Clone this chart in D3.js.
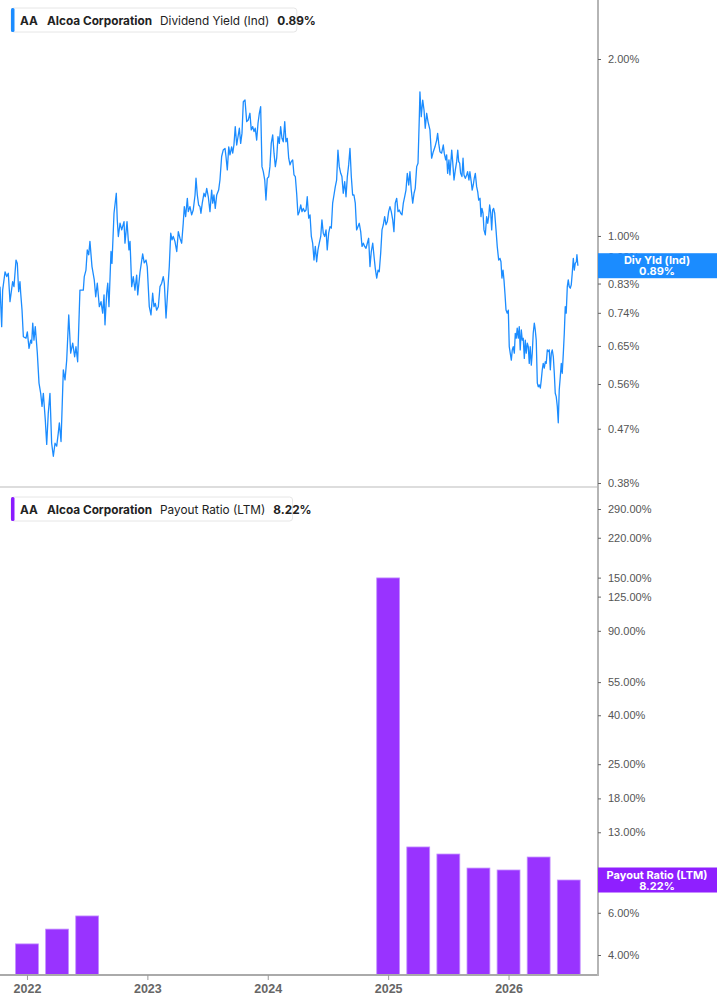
<!DOCTYPE html>
<html>
<head>
<meta charset="utf-8">
<script src="https://cdn.jsdelivr.net/npm/d3@7"></script>
<style>
  body { margin: 0; background: #fff; }
  svg { display: block; font-family: Inter, Roboto, "Noto Sans", sans-serif; }
  .tick-label { font-size: 11px; fill: #555; }
  .year-label { font-size: 12.5px; font-weight: 700; fill: #666; }
  .legend-text { font-size: 11.8px; fill: #222; }
  .tag-text { font-size: 11px; font-weight: 700; fill: #fff; }
</style>
</head>
<body>
<svg id="chart" width="717" height="1005"></svg>
<script>
// ========= data =========
// dividend yield (%) by date (decimal year)
const yieldSeries = [
  [2021.776,0.820],[2021.790,0.701],[2021.798,0.809],[2021.818,0.869],[2021.832,0.853],[2021.845,0.864],
  [2021.859,0.773],[2021.881,0.836],[2021.892,0.820],[2021.909,0.910],[2021.920,0.898],[2021.931,0.804],
  [2021.942,0.836],[2021.948,0.799],[2021.959,0.748],[2021.970,0.674],[2021.992,0.670],[2022.003,0.687],
  [2022.017,0.644],[2022.031,0.665],[2022.039,0.657],[2022.048,0.711],[2022.058,0.665],[2022.069,0.701],
  [2022.086,0.632],[2022.100,0.562],[2022.114,0.540],[2022.125,0.513],[2022.136,0.540],[2022.152,0.487],
  [2022.164,0.442],[2022.177,0.500],[2022.191,0.540],[2022.205,0.444],[2022.219,0.422],[2022.233,0.444],
  [2022.247,0.439],[2022.260,0.462],[2022.269,0.481],[2022.283,0.447],[2022.302,0.592],[2022.316,0.569],
  [2022.330,0.615],[2022.347,0.734],[2022.363,0.632],[2022.380,0.657],[2022.396,0.623],[2022.407,0.648],
  [2022.421,0.611],[2022.440,0.809],[2022.468,0.809],[2022.476,0.853],[2022.490,0.875],[2022.501,0.947],
  [2022.513,0.929],[2022.523,0.979],[2022.540,0.887],[2022.559,0.842],[2022.571,0.788],[2022.584,0.831],
  [2022.601,0.758],[2022.615,0.773],[2022.629,0.739],[2022.640,0.794],[2022.648,0.706],[2022.662,0.799],
  [2022.671,0.831],[2022.681,0.758],[2022.698,0.941],[2022.706,0.898],[2022.723,1.093],[2022.742,1.182],
  [2022.750,1.065],[2022.759,0.998],[2022.773,1.051],[2022.787,1.024],[2022.806,1.058],[2022.814,0.972],
  [2022.831,1.058],[2022.847,0.947],[2022.856,0.979],[2022.870,0.820],[2022.883,0.853],[2022.897,0.809],
  [2022.911,0.858],[2022.920,0.794],[2022.939,0.868],[2022.961,0.932],[2022.974,0.900],[2022.989,0.910],
  [2022.999,0.886],[2023.016,0.758],[2023.030,0.734],[2023.044,0.799],[2023.055,0.758],[2023.066,0.768],
  [2023.077,0.748],[2023.091,0.758],[2023.105,0.820],[2023.119,0.831],[2023.132,0.853],[2023.141,0.831],
  [2023.155,0.725],[2023.166,0.788],[2023.182,0.887],[2023.194,1.011],[2023.205,0.985],[2023.215,0.998],
  [2023.229,0.979],[2023.244,0.941],[2023.257,1.017],[2023.271,0.991],[2023.285,0.972],[2023.298,1.051],
  [2023.307,1.122],[2023.318,1.079],[2023.332,1.159],[2023.340,1.100],[2023.354,1.122],[2023.368,1.086],
  [2023.381,1.107],[2023.396,1.174],[2023.404,1.254],[2023.415,1.174],[2023.426,1.129],[2023.437,1.122],
  [2023.445,1.093],[2023.456,1.137],[2023.470,1.182],[2023.481,1.166],[2023.493,1.205],[2023.506,1.166],
  [2023.520,1.100],[2023.534,1.197],[2023.543,1.137],[2023.553,1.174],[2023.564,1.114],[2023.576,1.174],
  [2023.592,1.197],[2023.603,1.245],[2023.617,1.365],[2023.630,1.400],[2023.645,1.409],[2023.653,1.365],
  [2023.664,1.295],[2023.676,1.418],[2023.686,1.374],[2023.700,1.418],[2023.709,1.383],[2023.719,1.428],
  [2023.730,1.535],[2023.742,1.428],[2023.753,1.475],[2023.764,1.525],[2023.775,1.437],[2023.786,1.496],
  [2023.797,1.692],[2023.811,1.703],[2023.825,1.565],[2023.838,1.575],[2023.852,1.617],[2023.863,1.515],
  [2023.875,1.535],[2023.886,1.505],[2023.896,1.525],[2023.908,1.456],[2023.919,1.555],[2023.930,1.617],
  [2023.941,1.660],[2023.952,1.312],[2023.963,1.287],[2023.975,1.245],[2023.985,1.151],[2023.996,1.253],
  [2024.008,1.261],[2024.018,1.312],[2024.029,1.437],[2024.041,1.486],[2024.052,1.383],[2024.063,1.312],
  [2024.074,1.356],[2024.085,1.475],[2024.096,1.437],[2024.107,1.535],[2024.118,1.466],[2024.129,1.446],
  [2024.141,1.565],[2024.151,1.446],[2024.162,1.466],[2024.174,1.356],[2024.185,1.321],[2024.195,1.338],
  [2024.207,1.347],[2024.218,1.270],[2024.229,1.262],[2024.240,1.182],[2024.251,1.086],[2024.262,1.100],
  [2024.274,1.129],[2024.284,1.100],[2024.295,1.114],[2024.307,1.100],[2024.318,1.107],[2024.328,1.166],
  [2024.340,1.072],[2024.351,1.086],[2024.362,0.998],[2024.373,0.972],[2024.384,0.910],[2024.395,0.960],
  [2024.406,0.904],[2024.417,0.947],[2024.428,0.972],[2024.440,0.998],[2024.450,1.065],[2024.461,1.011],
  [2024.473,0.998],[2024.484,1.024],[2024.494,0.947],[2024.506,1.011],[2024.517,1.037],[2024.528,1.031],
  [2024.539,1.137],[2024.550,1.174],[2024.561,1.213],[2024.572,1.245],[2024.583,1.400],[2024.594,1.312],
  [2024.606,1.278],[2024.616,1.262],[2024.627,1.182],[2024.639,1.237],[2024.650,1.166],[2024.661,1.262],
  [2024.672,1.321],[2024.683,1.409],[2024.694,1.262],[2024.705,1.174],[2024.716,1.174],[2024.727,1.137],
  [2024.738,1.024],[2024.749,1.037],[2024.760,1.051],[2024.772,1.017],[2024.783,0.960],[2024.794,0.972],
  [2024.805,0.960],[2024.816,0.953],[2024.827,0.972],[2024.838,0.991],[2024.849,0.887],[2024.860,0.941],
  [2024.872,0.972],[2024.883,0.922],[2024.893,0.881],[2024.905,0.848],[2024.916,0.875],[2024.926,0.869],
  [2024.938,0.935],[2024.949,1.024],[2024.960,1.045],[2024.971,1.079],[2024.982,1.045],[2024.993,1.058],
  [2025.004,1.100],[2025.015,1.122],[2025.026,1.100],[2025.038,1.065],[2025.048,1.017],[2025.059,1.137],
  [2025.071,1.159],[2025.082,1.100],[2025.092,1.107],[2025.104,1.093],[2025.115,1.086],[2025.126,1.137],
  [2025.137,1.166],[2025.148,1.197],[2025.159,1.278],[2025.171,1.221],[2025.181,1.286],[2025.192,1.197],
  [2025.204,1.137],[2025.215,1.182],[2025.225,1.205],[2025.237,1.312],[2025.248,1.330],[2025.259,1.596],
  [2025.264,1.759],[2025.275,1.596],[2025.287,1.703],[2025.298,1.638],[2025.308,1.525],[2025.320,1.617],
  [2025.331,1.565],[2025.347,1.515],[2025.361,1.356],[2025.375,1.391],[2025.389,1.418],[2025.403,1.456],
  [2025.411,1.495],[2025.420,1.437],[2025.430,1.391],[2025.444,1.383],[2025.458,1.428],[2025.466,1.383],
  [2025.478,1.347],[2025.486,1.374],[2025.494,1.278],[2025.505,1.347],[2025.513,1.270],[2025.528,1.400],
  [2025.536,1.338],[2025.547,1.245],[2025.558,1.295],[2025.569,1.338],[2025.578,1.400],[2025.586,1.338],
  [2025.594,1.330],[2025.602,1.278],[2025.613,1.262],[2025.622,1.356],[2025.630,1.270],[2025.641,1.253],
  [2025.652,1.270],[2025.660,1.286],[2025.671,1.245],[2025.679,1.286],[2025.690,1.237],[2025.698,1.197],
  [2025.707,1.221],[2025.715,1.253],[2025.724,1.278],[2025.735,1.213],[2025.744,1.189],[2025.752,1.151],
  [2025.763,1.159],[2025.771,1.079],[2025.779,1.114],[2025.788,1.093],[2025.796,1.024],[2025.807,1.004],
  [2025.818,1.079],[2025.827,1.051],[2025.835,1.079],[2025.843,1.129],[2025.852,1.093],[2025.860,1.024],
  [2025.868,1.107],[2025.876,1.114],[2025.885,1.093],[2025.896,1.024],[2025.906,0.960],[2025.918,0.910],
  [2025.929,0.916],[2025.937,0.904],[2025.945,0.848],[2025.954,0.875],[2025.962,0.842],[2025.970,0.799],
  [2025.979,0.748],[2025.989,0.739],[2025.998,0.748],[2026.006,0.648],[2026.014,0.632],[2026.023,0.615],
  [2026.031,0.640],[2026.039,0.648],[2026.048,0.632],[2026.056,0.683],[2026.064,0.670],[2026.072,0.697],
  [2026.081,0.670],[2026.089,0.701],[2026.097,0.640],[2026.106,0.692],[2026.114,0.665],[2026.122,0.670],
  [2026.131,0.619],[2026.139,0.665],[2026.147,0.632],[2026.156,0.657],[2026.164,0.648],[2026.172,0.607],
  [2026.180,0.648],[2026.189,0.603],[2026.197,0.632],[2026.205,0.683],[2026.214,0.711],[2026.222,0.692],
  [2026.230,0.665],[2026.239,0.562],[2026.247,0.554],[2026.255,0.558],[2026.264,0.551],[2026.272,0.569],
  [2026.280,0.592],[2026.288,0.607],[2026.297,0.596],[2026.305,0.611],[2026.313,0.607],[2026.322,0.640],
  [2026.330,0.636],[2026.338,0.640],[2026.347,0.592],[2026.355,0.632],[2026.363,0.640],[2026.372,0.623],
  [2026.380,0.584],[2026.388,0.540],[2026.396,0.533],[2026.405,0.513],[2026.413,0.481],[2026.421,0.547],
  [2026.430,0.577],[2026.438,0.607],[2026.446,0.584],[2026.455,0.632],[2026.463,0.683],[2026.471,0.758],
  [2026.479,0.739],[2026.488,0.820],[2026.496,0.842],[2026.504,0.820],[2026.513,0.815],[2026.521,0.826],
  [2026.529,0.864],[2026.538,0.916],[2026.546,0.875],[2026.554,0.898],[2026.563,0.904],[2026.568,0.929],
  [2026.576,0.890]
];

// payout ratio (%) per quarter
const payoutQuarters = [2022.0, 2022.25, 2022.5, 2025.0, 2025.25, 2025.5, 2025.75, 2026.0, 2026.25, 2026.5];
const payoutValues = [4.45, 5.13, 5.82, 149.6, 11.29, 10.55, 9.22, 9.05, 10.25, 8.22];

const yieldTicks = [2.00, 1.00, 0.92, 0.83, 0.74, 0.65, 0.56, 0.47, 0.38];
const payoutTicks = [290, 220, 150, 125, 90, 55, 40, 25, 18, 13, 8, 6, 4];
const yearTicks = [2022, 2023, 2024, 2025, 2026];

const lastYield = 0.89;
const lastPayout = 8.22;

const BLUE = "#1b8cff";
const PURPLE = "#9933ff";

// ========= svg =========
const svg = d3.select("#chart");
const plotW = 598;
const topPanel = { y0: 0, y1: 487 };
const botPanel = { y0: 487, y1: 975 };

const x = d3.scaleLinear()
    .domain([2021.776, 2026.743])
    .range([0, plotW]);

const yTop = d3.scaleLog()
    .domain([0.38, 2.00])
    .range([483, 59]);

const yBot = d3.scaleLog()
    .domain([4, 290])
    .range([955, 509]);

// clip for top panel
const defs = svg.append("defs");
defs.append("clipPath").attr("id", "clip-top")
    .append("rect").attr("x", 0).attr("y", 0).attr("width", plotW).attr("height", topPanel.y1);

// ========= line =========
const line = d3.line()
    .x(d => x(d[0]))
    .y(d => yTop(d[1]));

svg.append("path")
    .datum(yieldSeries)
    .attr("clip-path", "url(#clip-top)")
    .attr("fill", "none")
    .attr("stroke", BLUE)
    .attr("stroke-width", 1.3)
    .attr("stroke-linejoin", "round")
    .attr("d", line);

// ========= bars =========
const barW = (x(0.25) - x(0)) * 0.76;

svg.append("g")
    .selectAll("rect")
    .data(payoutQuarters.map((q, i) => ({ q, v: payoutValues[i] })))
    .join("rect")
    .attr("x", d => x(d.q) - barW / 2)
    .attr("y", d => yBot(d.v))
    .attr("width", barW)
    .attr("height", d => botPanel.y1 - yBot(d.v))
    .attr("fill", PURPLE)
    .attr("stroke", "#c490ff")
    .attr("stroke-width", 0.8);

// ========= frame =========
svg.append("line")
    .attr("x1", 0).attr("x2", plotW)
    .attr("y1", topPanel.y1).attr("y2", topPanel.y1)
    .attr("stroke", "#dddddd").attr("stroke-width", 2);

svg.append("line")
    .attr("x1", 0).attr("x2", plotW + 1)
    .attr("y1", botPanel.y1).attr("y2", botPanel.y1)
    .attr("stroke", "#aaaaaa").attr("stroke-width", 2);

svg.append("line")
    .attr("x1", plotW).attr("x2", plotW)
    .attr("y1", 0).attr("y2", botPanel.y1 + 1)
    .attr("stroke", "#b5b5b5").attr("stroke-width", 2);

// ========= right axes =========
function rightAxis(scale, ticks) {
    const g = svg.append("g").attr("transform", `translate(${plotW},0)`);
    g.call(d3.axisRight(scale)
        .tickValues(ticks)
        .tickSize(3)
        .tickPadding(7)
        .tickFormat(d => d.toFixed(2) + "%"));
    g.select(".domain").remove();
    g.selectAll("line").attr("stroke", "#666").attr("stroke-width", 1);
    g.selectAll("text").attr("class", "tick-label").attr("fill", null).attr("font-size", null).attr("font-family", null);
    return g;
}
rightAxis(yTop, yieldTicks);
rightAxis(yBot, payoutTicks);

// ========= x axis =========
const xAxis = svg.append("g")
    .attr("transform", `translate(0,${botPanel.y1})`)
    .call(d3.axisBottom(x)
        .tickValues(yearTicks)
        .tickSize(5)
        .tickPadding(4)
        .tickFormat(d3.format("d")));
xAxis.select(".domain").remove();
xAxis.selectAll("line").attr("stroke", "#999");
xAxis.selectAll("text").attr("class", "year-label").attr("fill", null).attr("font-size", null).attr("font-family", null);

// ========= legends =========
function legend(y, color, parts) {
    const g = svg.append("g").attr("transform", `translate(11,${y})`);
    const box = g.append("rect")
        .attr("height", 24).attr("rx", 3)
        .attr("fill", "#fff").attr("stroke", "#e6e6e6");
    g.append("rect")
        .attr("x", 0).attr("y", 0).attr("width", 3.5).attr("height", 24).attr("rx", 1.5)
        .attr("fill", color);
    const t = g.append("text").attr("class", "legend-text").attr("x", 9).attr("y", 16.5);
    parts.forEach(([txt, bold, gap]) => {
        t.append("tspan")
            .attr("dx", gap)
            .attr("font-weight", bold ? 700 : 400)
            .text(txt);
    });
    const w = t.node().getComputedTextLength();
    box.attr("width", w + 15);
}

legend(8, BLUE, [
    ["AA", true, 0],
    ["Alcoa Corporation", true, 9],
    ["Dividend Yield (Ind)", false, 8],
    ["0.89%", true, 8]
]);

legend(497, "#8a1cff", [
    ["AA", true, 0],
    ["Alcoa Corporation", true, 9],
    ["Payout Ratio (LTM)", false, 8],
    ["8.22%", true, 8]
]);

// ========= value tags =========
function tag(cy, color, label, value) {
    const g = svg.append("g").attr("transform", `translate(${plotW},${cy})`);
    g.append("rect")
        .attr("x", 0).attr("y", -12.5).attr("width", 717 - plotW).attr("height", 25)
        .attr("fill", color);
    g.append("text").attr("class", "tag-text")
        .attr("x", 59).attr("y", -1.5).attr("text-anchor", "middle").text(label);
    g.append("text").attr("class", "tag-text")
        .attr("x", 59).attr("y", 9.5).attr("text-anchor", "middle").text(value);
}

tag(yTop(lastYield), BLUE, "Div Yld (Ind)", lastYield.toFixed(2) + "%");
tag(yBot(lastPayout), "#8f1fff", "Payout Ratio (LTM)", lastPayout.toFixed(2) + "%");
</script>
</body>
</html>
